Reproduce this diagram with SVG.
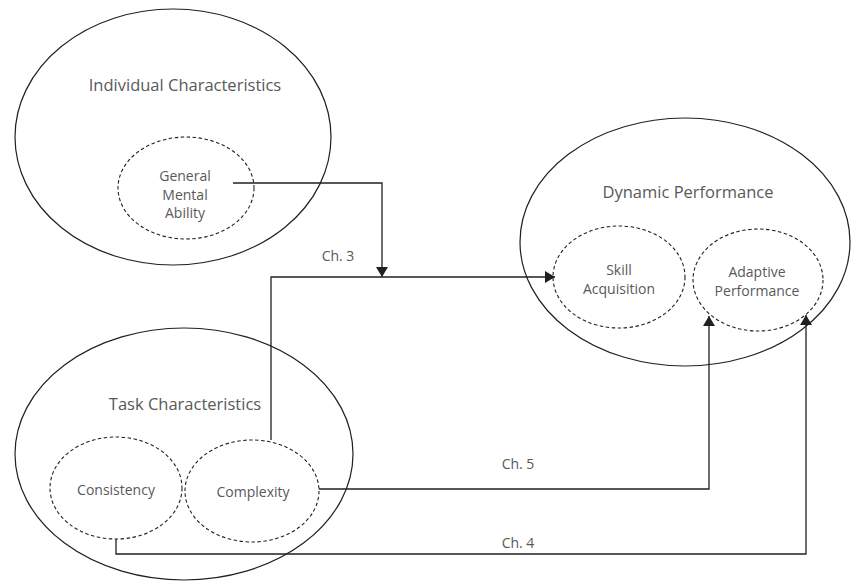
<svg xmlns="http://www.w3.org/2000/svg" width="851" height="582" viewBox="0 0 851 582">
<defs>
<marker id="arr" viewBox="0 0 10 12" refX="10" refY="6" markerWidth="10" markerHeight="12" markerUnits="userSpaceOnUse" orient="auto">
<path d="M0,0 L10,6 L0,12 Z" fill="#231f20"/>
</marker>
</defs>
<style>
.outer{fill:none;stroke:#231f20;stroke-width:1.2}
.inner{fill:none;stroke:#231f20;stroke-width:1.1;stroke-dasharray:3.5 2.5}
.big{font-family:"Open Sans","Liberation Sans",sans-serif;font-size:16.5px;fill:#58595b;text-anchor:middle}
.sm{font-family:"Open Sans","Liberation Sans",sans-serif;font-size:14px;fill:#58595b;text-anchor:middle}
.con{fill:none;stroke:#231f20;stroke-width:1.3}
</style>
<rect width="851" height="582" fill="#fff"/>
<g id="individual">
<ellipse class="outer" cx="173" cy="137" rx="158" ry="128"/>
<text class="big" x="185" y="91">Individual Characteristics</text>
</g>
<g id="gma">
<ellipse class="inner" cx="186" cy="188" rx="68" ry="51"/>
<text class="sm" x="185" y="181">General</text>
<text class="sm" x="185" y="200">Mental</text>
<text class="sm" x="185" y="218">Ability</text>
</g>
<g id="task">
<ellipse class="outer" cx="184" cy="454" rx="169" ry="126"/>
<text class="big" x="185" y="410">Task Characteristics</text>
</g>
<g id="consistency">
<ellipse class="inner" cx="116" cy="488" rx="66" ry="51"/>
<text class="sm" x="116" y="495">Consistency</text>
</g>
<g id="complexity">
<ellipse class="inner" cx="252" cy="491" rx="67" ry="51"/>
<text class="sm" x="253" y="497">Complexity</text>
</g>
<g id="dynamic">
<ellipse class="outer" cx="685" cy="242" rx="165" ry="124"/>
<text class="big" x="688" y="198">Dynamic Performance</text>
</g>
<g id="skill">
<ellipse class="inner" cx="619" cy="277" rx="66" ry="51"/>
<text class="sm" x="619" y="275">Skill</text>
<text class="sm" x="619" y="294">Acquisition</text>
</g>
<g id="adaptive">
<ellipse class="inner" cx="758" cy="280" rx="65" ry="51"/>
<text class="sm" x="757" y="277">Adaptive</text>
<text class="sm" x="757" y="296">Performance</text>
</g>
<g id="connectors">
<path class="con" d="M233,183 H382 V277" marker-end="url(#arr)"/>
<path class="con" d="M271,440 V277 H555" marker-end="url(#arr)"/>
<path class="con" d="M319,489 H709 V316" marker-end="url(#arr)"/>
<path class="con" d="M116,539 V554 H806 V315" marker-end="url(#arr)"/>
<text class="sm" x="338" y="261">Ch. 3</text>
<text class="sm" x="518" y="469">Ch. 5</text>
<text class="sm" x="518" y="548">Ch. 4</text>
</g>
</svg>
